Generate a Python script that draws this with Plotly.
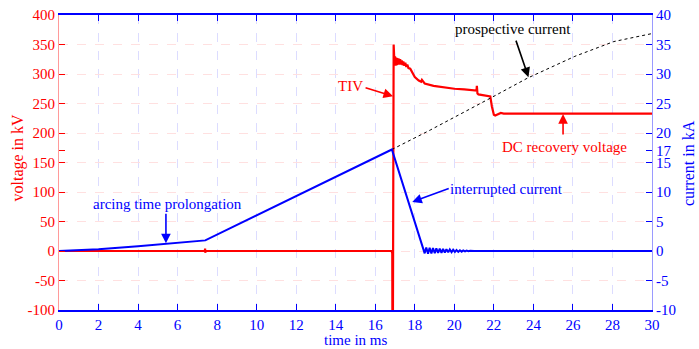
import plotly.graph_objects as go

# ---- data ----
t_current = [0, 2, 4, 5.5, 7.4, 16.84, 18.5,
             18.58, 18.67, 18.75, 18.84, 18.92, 19.01, 19.09, 19.18, 19.26, 19.35,
             19.43, 19.52, 19.60, 19.69, 19.77, 19.86, 19.94, 20.03, 20.11, 20.20,
             20.28, 20.37, 20.45, 20.54, 20.62, 20.71, 20.80, 21.0, 30]
i_current = [0, 0.3, 0.8, 1.25, 1.8, 17.2, -0.4,
             0.6, -0.45, 0.55, -0.42, 0.5, -0.38, 0.45, -0.34, 0.4, -0.3,
             0.35, -0.27, 0.3, -0.23, 0.25, -0.2, 0.21, -0.17, 0.17, -0.14,
             0.13, -0.11, 0.1, -0.08, 0.07, -0.05, 0.04, 0, 0]

t_prosp = [16.84, 18.78, 21.82, 23.7, 26.1, 28.07, 30]
i_prosp = [17.2, 20.5, 25.9, 29.3, 33.0, 35.5, 36.85]

t_voltage = [0, 7.38, 7.39, 7.40, 7.41, 16.83, 16.85, 16.86, 16.87, 16.89, 16.93, 16.97,
             17.0, 17.03, 17.06, 17.09, 17.12, 17.15, 17.19, 17.22, 17.26, 17.30,
             17.34, 17.38, 17.42, 17.47, 17.52, 17.57, 17.62, 17.68, 17.77, 17.88,
             18.0, 18.2, 18.32, 18.36, 18.5, 18.95, 19.5, 20.0, 20.5, 21.0, 21.12,
             21.14, 21.17, 21.22, 21.5, 21.82, 21.9, 22.0, 22.07, 22.2, 22.35, 22.5, 30]
v_voltage = [0, 0, 4, -3, 0, 0, -3, -4, -160, -160, 350, 318,
             330, 314, 328, 315, 327, 316, 326, 316, 325, 316,
             323, 315, 321, 314, 319, 312, 316, 310, 309, 303,
             295, 289, 287, 290, 284, 280, 277, 275, 274, 272.5, 272,
             280, 267, 265.5, 263.5, 261.8, 245, 231, 229.5, 232, 234, 233, 233]

x_ticks = list(range(0, 31, 2))
v_ticks = list(range(-100, 401, 50))
v_ticktext = ["-100", "-50", "0", "50", "100", "150", "200", "250", "300", "350", "400"]
i_ticks = [-10, -5, 0, 5, 10, 15, 17, 20, 25, 30, 35, 40]
i_ticktext = ["-10", "-5", "0", "5", "10", "15", "17", "20", "25", "30", "35", "40"]

RED = "#ff0000"
BLUE = "#0000ff"
FONT = "Liberation Serif"

fig = go.Figure()
fig.add_trace(go.Scatter(x=t_prosp, y=i_prosp, yaxis="y2", mode="lines",
                         line=dict(color="black", width=1, dash="3px,3px"), showlegend=False))
fig.add_trace(go.Scatter(x=t_current, y=i_current, yaxis="y2", mode="lines",
                         line=dict(color=BLUE, width=2), showlegend=False))
fig.add_trace(go.Scatter(x=t_voltage, y=v_voltage, yaxis="y", mode="lines",
                         line=dict(color=RED, width=2.2), showlegend=False))

fig.update_layout(
    width=699, height=349,
    margin=dict(l=59, r=47, t=15, b=39, autoexpand=False),
    plot_bgcolor="white", paper_bgcolor="white",
    font=dict(family=FONT, size=15),
    xaxis=dict(range=[0, 30], tickvals=x_ticks, ticks="inside", ticklen=6,
               tickcolor=BLUE, tickfont=dict(color=BLUE, size=15, family=FONT),
               showline=True, linecolor=BLUE, linewidth=1.5, mirror="ticks",
               showgrid=True, gridcolor="#dcdcff", griddash="dash", gridwidth=1,
               zeroline=False, automargin=False),
    yaxis=dict(range=[-100, 400], tickvals=v_ticks, ticktext=v_ticktext,
               ticks="inside", ticklen=6,
               tickcolor=RED, tickfont=dict(color=RED, size=15, family=FONT),
               showline=True, linecolor="#ff9a9a", linewidth=1,
               showgrid=True, gridcolor="#ffe0e0", griddash="dash", gridwidth=1,
               zeroline=False, automargin=False,
               minor=dict(tickvals=[170], ticks="inside", ticklen=6, tickcolor=RED,
                          showgrid=False)),
    yaxis2=dict(range=[-10, 40], tickvals=i_ticks, ticktext=i_ticktext,
                ticks="inside", ticklen=6,
                tickcolor=BLUE, tickfont=dict(color=BLUE, size=15, family=FONT),
                overlaying="y", side="right",
                showline=True, linecolor="#9a9aff", linewidth=1,
                showgrid=False, zeroline=False, automargin=False),
)

# axis titles
fig.add_annotation(x=0.5, y=-0.1017, xref="paper", yref="paper", text="time in ms",
                   showarrow=False, font=dict(color=BLUE, size=15, family=FONT),
                   xanchor="center", yanchor="middle")
fig.add_annotation(x=-0.0691, y=0.517, xref="paper", yref="paper", text="voltage in kV",
                   showarrow=False, textangle=-90, font=dict(color=RED, size=16, family=FONT),
                   xanchor="center", yanchor="middle")
fig.add_annotation(x=1.0607, y=0.498, xref="paper", yref="paper", text="current in kA",
                   showarrow=False, textangle=-90, font=dict(color=BLUE, size=16, family=FONT),
                   xanchor="center", yanchor="middle")

def label(x, y, text, color):
    fig.add_annotation(x=x, y=y, xref="x", yref="y", text=text, showarrow=False,
                       font=dict(color=color, size=15, family=FONT),
                       xanchor="center", yanchor="middle")

def arrow(x, y, ax, ay, color):
    fig.add_annotation(x=x, y=y, xref="x", yref="y", text="", showarrow=True,
                       ax=ax, ay=ay, arrowhead=2, arrowsize=1.2, arrowwidth=1.6,
                       arrowcolor=color)

label(22.96, 376.6, "prospective current", "black")
label(14.77, 279.3, "TIV", RED)
label(25.59, 175.8, "DC recovery voltage", RED)
label(22.62, 105.8, "interrupted current", BLUE)
label(5.47, 79.7, "arcing time prolongation", BLUE)

arrow(23.75, 294.7, -13, -38, "black")
arrow(16.9, 262.3, -29, -9, RED)
arrow(25.5, 232.0, 0, 22, RED)
arrow(17.87, 83.1, 38, -14, BLUE)
arrow(5.41, 13.1, 0, -31, BLUE)

fig.write_html("out.html")
